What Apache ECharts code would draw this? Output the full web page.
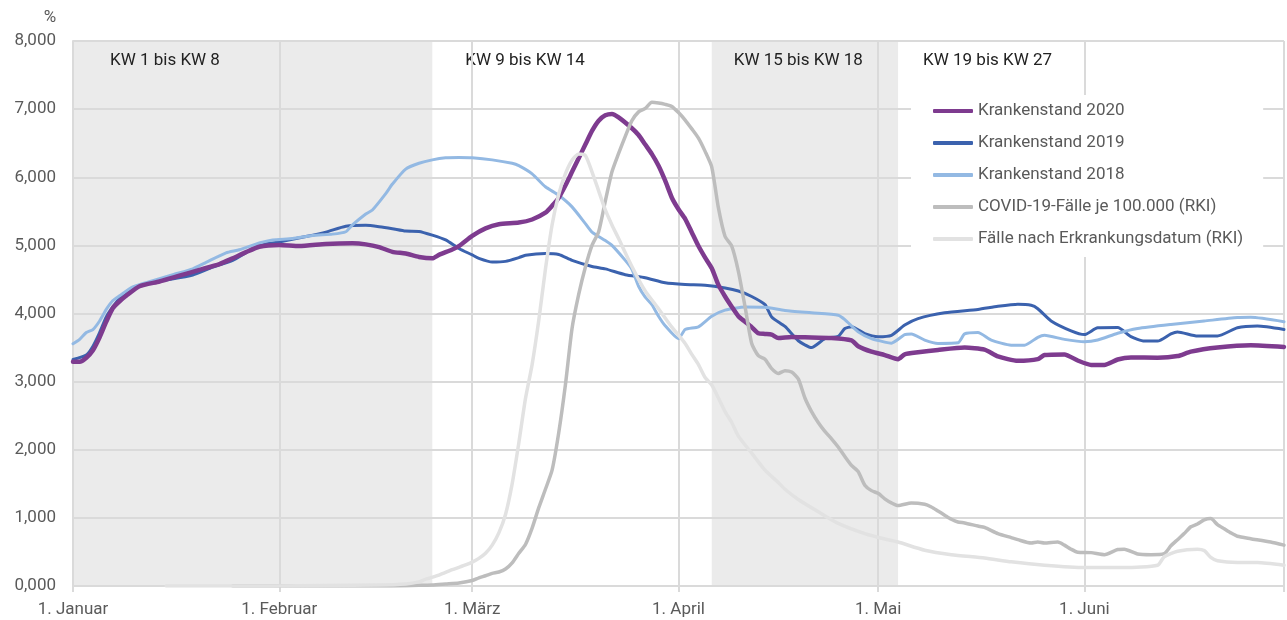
<!DOCTYPE html>
<html>
<head>
<meta charset="utf-8">
<script src="https://cdn.jsdelivr.net/npm/echarts@6/dist/echarts.min.js"></script>
<style>
html,body{margin:0;padding:0;background:#fff;}
#chart{width:1287px;height:620px;}
</style>
</head>
<body>
<div id="chart"></div>
<script>
// ---- categories: days from 1 Jan 2020 to 1 Jul 2020 ----
const startDate = new Date(Date.UTC(2020, 0, 1));
const categories = [];
for (let d = 0; d <= 182; d++) {
  const dt = new Date(startDate.getTime() + d * 86400000);
  categories.push(dt.toISOString().slice(0, 10));
}
const monthLabels = ['1. Januar', '1. Februar', '1. März', '1. April', '1. Mai', '1. Juni', ''];
const monthStartIdx = [0, 31, 60, 91, 121, 152, 182];
const yTickLabels = ['0,000', '1,000', '2,000', '3,000', '4,000', '5,000', '6,000', '7,000', '8,000'];

// calendar-week blocks (start index, end index)
const weekLabels = ['KW 1 bis KW 8', 'KW 9 bis KW 14', 'KW 15 bis KW 18', 'KW 19 bis KW 27'];
const weekBounds = [[0, 54], [54, 96], [96, 124], [124, 182]];

const seriesNames = ['Krankenstand 2020', 'Krankenstand 2019', 'Krankenstand 2018',
  'COVID-19-Fälle je 100.000 (RKI)', 'Fälle nach Erkrankungsdatum (RKI)'];

// [day index, value]
const ks2020 = [[0,3290],[1,3290],[2,3350],[3,3460],[4,3650],[5,3880],[6,4080],[7,4180],[8,4260],[10,4400],[13,4470],[16,4555],[19,4640],[22,4725],[24,4810],[26,4900],[28,4980],[31,5005],[34,4990],[38,5020],[42,5030],[44,5015],[46,4975],[48,4905],[50,4880],[52,4830],[54,4810],[55,4860],[57,4940],[58,4990],[60,5140],[62,5250],[64,5310],[67,5335],[69,5380],[71,5480],[72,5580],[73,5700],[74,5880],[75,6080],[76,6280],[77,6480],[78,6680],[79,6830],[80,6910],[81,6930],[82,6880],[84,6720],[85,6620],[86,6480],[87,6340],[88,6170],[89,5950],[90,5700],[91,5530],[92,5390],[93,5190],[94,4990],[95,4820],[96,4665],[97,4420],[98,4250],[99,4100],[100,3960],[101,3880],[102,3800],[103,3710],[104,3700],[105,3690],[106,3640],[108,3655],[110,3650],[114,3640],[117,3605],[118,3520],[120,3440],[122,3390],[124,3330],[125,3400],[127,3430],[130,3465],[134,3500],[137,3470],[139,3370],[142,3305],[145,3330],[146,3390],[149,3400],[151,3310],[153,3245],[155,3245],[157,3325],[159,3355],[163,3350],[166,3375],[168,3440],[172,3500],[177,3535],[182,3510]];

const ks2019 = [[0,3325],[2,3390],[3,3520],[4,3720],[5,3950],[6,4100],[7,4220],[9,4360],[11,4440],[14,4490],[18,4565],[21,4680],[24,4780],[27,4950],[29,5020],[31,5050],[35,5130],[38,5195],[41,5280],[44,5295],[46,5275],[48,5245],[50,5210],[52,5205],[54,5150],[56,5080],[58,4955],[60,4860],[61,4810],[63,4755],[65,4765],[67,4820],[68,4855],[71,4880],[73,4865],[75,4780],[78,4690],[80,4655],[83,4570],[86,4525],[89,4450],[92,4425],[95,4415],[98,4375],[100,4330],[102,4250],[104,4130],[105,3950],[107,3810],[109,3600],[111,3500],[113,3630],[115,3665],[116,3780],[117,3805],[119,3705],[121,3660],[123,3680],[125,3830],[127,3925],[131,4010],[136,4060],[139,4105],[142,4135],[144,4120],[145,4070],[147,3890],[150,3745],[152,3690],[154,3790],[157,3795],[159,3660],[161,3595],[163,3595],[165,3700],[166,3730],[169,3670],[172,3670],[175,3790],[178,3815],[182,3765]];

const ks2018 = [[0,3555],[1,3620],[2,3720],[3,3765],[4,3890],[5,4060],[6,4190],[7,4260],[9,4390],[12,4480],[15,4570],[18,4655],[20,4750],[23,4890],[25,4935],[28,5035],[30,5080],[33,5100],[36,5145],[39,5165],[41,5200],[42,5300],[44,5460],[45,5520],[47,5760],[48,5900],[50,6120],[52,6205],[54,6255],[56,6285],[58,6290],[60,6285],[63,6255],[66,6205],[67,6170],[69,6050],[71,5860],[73,5735],[75,5565],[77,5320],[78,5195],[80,5070],[81,5000],[83,4780],[84,4650],[85,4400],[86,4240],[87,4130],[88,3960],[89,3820],[91,3630],[92,3765],[94,3805],[96,3960],[98,4050],[101,4095],[104,4090],[107,4045],[111,4010],[115,3975],[116,3910],[118,3730],[120,3630],[122,3580],[123,3565],[125,3690],[126,3700],[128,3610],[130,3560],[133,3570],[134,3700],[136,3720],[138,3610],[141,3535],[143,3535],[145,3650],[146,3680],[149,3620],[152,3585],[154,3610],[157,3710],[160,3780],[165,3840],[170,3890],[175,3940],[177,3945],[182,3880]];

const covidRki = [[24,0],[46,0],[52,10],[54,15],[56,30],[58,45],[60,80],[61,120],[62,150],[63,185],[64,205],[65,250],[66,340],[67,480],[68,610],[69,850],[70,1150],[71,1420],[72,1700],[73,2250],[74,2950],[75,3780],[76,4280],[77,4680],[78,5000],[79,5200],[80,5650],[81,6080],[82,6350],[83,6600],[84,6830],[85,6960],[86,7010],[87,7100],[88,7090],[89,7070],[90,7040],[91,6950],[92,6840],[93,6710],[94,6575],[95,6380],[96,6150],[97,5550],[98,5130],[99,4990],[100,4620],[101,4100],[102,3560],[103,3380],[104,3330],[105,3190],[106,3120],[107,3160],[108,3140],[109,3040],[110,2760],[111,2560],[112,2400],[113,2270],[114,2160],[115,2040],[116,1900],[117,1770],[118,1680],[119,1480],[120,1400],[121,1360],[122,1280],[123,1220],[124,1180],[126,1220],[128,1200],[129,1160],[130,1100],[131,1040],[132,980],[133,940],[134,925],[136,880],[137,860],[139,770],[141,710],[142,680],[144,630],[145,645],[146,630],[148,645],[149,600],[150,540],[151,495],[153,490],[155,460],[157,535],[158,540],[160,470],[162,460],[164,475],[165,590],[166,680],[167,770],[168,870],[169,910],[170,970],[171,990],[172,900],[173,840],[174,780],[175,730],[177,695],[180,645],[182,600]];

const faelleErkrankung = [[14,0],[30,0],[46,15],[50,30],[52,60],[53,100],[55,160],[57,240],[59,310],[60,350],[61,405],[62,480],[63,600],[64,780],[65,1050],[66,1500],[67,2100],[68,2750],[69,3250],[70,3900],[71,4650],[72,5300],[73,5750],[74,6050],[75,6250],[76,6340],[77,6320],[78,6080],[79,5800],[80,5520],[81,5300],[82,5100],[84,4690],[86,4330],[88,4070],[90,3800],[92,3560],[93,3400],[94,3250],[95,3060],[96,2950],[97,2760],[98,2560],[99,2400],[100,2200],[102,1950],[104,1700],[106,1520],[107,1420],[109,1270],[112,1090],[115,920],[119,770],[122,690],[124,645],[128,525],[132,460],[137,410],[141,355],[146,305],[152,270],[158,270],[163,305],[164,430],[166,510],[169,540],[170,520],[171,420],[172,370],[175,345],[178,345],[182,305]];

// ---- styles ----
const FONT = 'Roboto, "Open Sans", sans-serif';
const GRID_COLOR = '#dadada';
const TEXT_COLOR = '#5a5a5a';
const colors = ['#7e3b8f', '#3b62ae', '#93b9e3', '#bdbdbd', '#e2e2e2'];
const widths = [4.5, 3, 3, 3.5, 3.5];
const zs = [4, 2, 3, 5, 6];
const weekLabelOffsets = [[32, 6], [28, 6], [17, 6], [20, 6]];

const seriesData = [ks2020, ks2019, ks2018, covidRki, faelleErkrankung];

const isMonthStart = (i) => monthStartIdx.indexOf(i) >= 0;

const lineSeries = seriesNames.map((name, i) => ({
  name: name,
  type: 'line',
  data: seriesData[i],
  showSymbol: false,
  symbol: 'none',
  smooth: 0.2,
  z: zs[i],
  color: colors[i],
  lineStyle: { color: colors[i], width: widths[i], cap: 'round', join: 'round' },
  emphasis: { disabled: true }
}));

const shadeSeries = {
  name: 'KW',
  type: 'line',
  data: [],
  z: -1,
  silent: true,
  markArea: {
    silent: true,
    z: -1,
    data: weekBounds.map((b, i) => [
      {
        xAxis: b[0],
        name: weekLabels[i],
        itemStyle: { color: i % 2 === 0 ? '#ebebeb' : 'rgba(0,0,0,0)' },
        label: { offset: weekLabelOffsets[i] }
      },
      { xAxis: b[1] }
    ]),
    label: {
      show: true,
      position: 'insideTopLeft',
      color: '#222',
      fontSize: 17,
      fontFamily: FONT
    }
  }
};

const option = {
  animation: false,
  backgroundColor: '#fff',
  textStyle: { fontFamily: FONT },
  grid: { left: 73, right: 2, top: 41, bottom: 34, containLabel: false },
  legend: {
    data: seriesNames,
    orient: 'vertical',
    left: 911,
    top: 95,
    backgroundColor: '#fff',
    padding: [6, 20, 8, 22],
    itemGap: 12,
    itemWidth: 40,
    itemHeight: 4,
    icon: 'roundRect',
    textStyle: { color: TEXT_COLOR, fontSize: 17, lineHeight: 20, fontFamily: FONT },
    z: 10
  },
  xAxis: {
    type: 'category',
    data: categories,
    boundaryGap: false,
    axisLine: { show: true, lineStyle: { color: GRID_COLOR, width: 2 } },
    axisTick: { show: true, length: 6, interval: (i) => isMonthStart(i), lineStyle: { color: GRID_COLOR, width: 2 } },
    axisLabel: {
      interval: (i) => isMonthStart(i),
      formatter: (v, i) => monthLabels[monthStartIdx.indexOf(i)] || '',
      color: TEXT_COLOR,
      fontSize: 17,
      margin: 15,
      fontFamily: FONT
    },
    splitLine: { show: true, interval: (i) => isMonthStart(i), lineStyle: { color: GRID_COLOR, width: 2 } }
  },
  yAxis: {
    type: 'value',
    min: 0,
    max: 8000,
    interval: 1000,
    name: '%',
    nameLocation: 'end',
    nameGap: 15,
    nameTextStyle: { color: TEXT_COLOR, fontSize: 17, padding: [0, 46, 0, 0], fontFamily: FONT },
    axisLine: { show: true, lineStyle: { color: GRID_COLOR, width: 2 } },
    axisTick: { show: false },
    axisLabel: {
      formatter: (v) => yTickLabels[Math.round(v / 1000)],
      color: TEXT_COLOR,
      fontSize: 17,
      margin: 17,
      fontFamily: FONT
    },
    splitLine: { show: true, lineStyle: { color: GRID_COLOR, width: 2 } }
  },
  series: [shadeSeries].concat(lineSeries)
};

const chart = echarts.init(document.getElementById('chart'), null, { renderer: 'canvas' });
chart.setOption(option);
</script>
</body>
</html>
